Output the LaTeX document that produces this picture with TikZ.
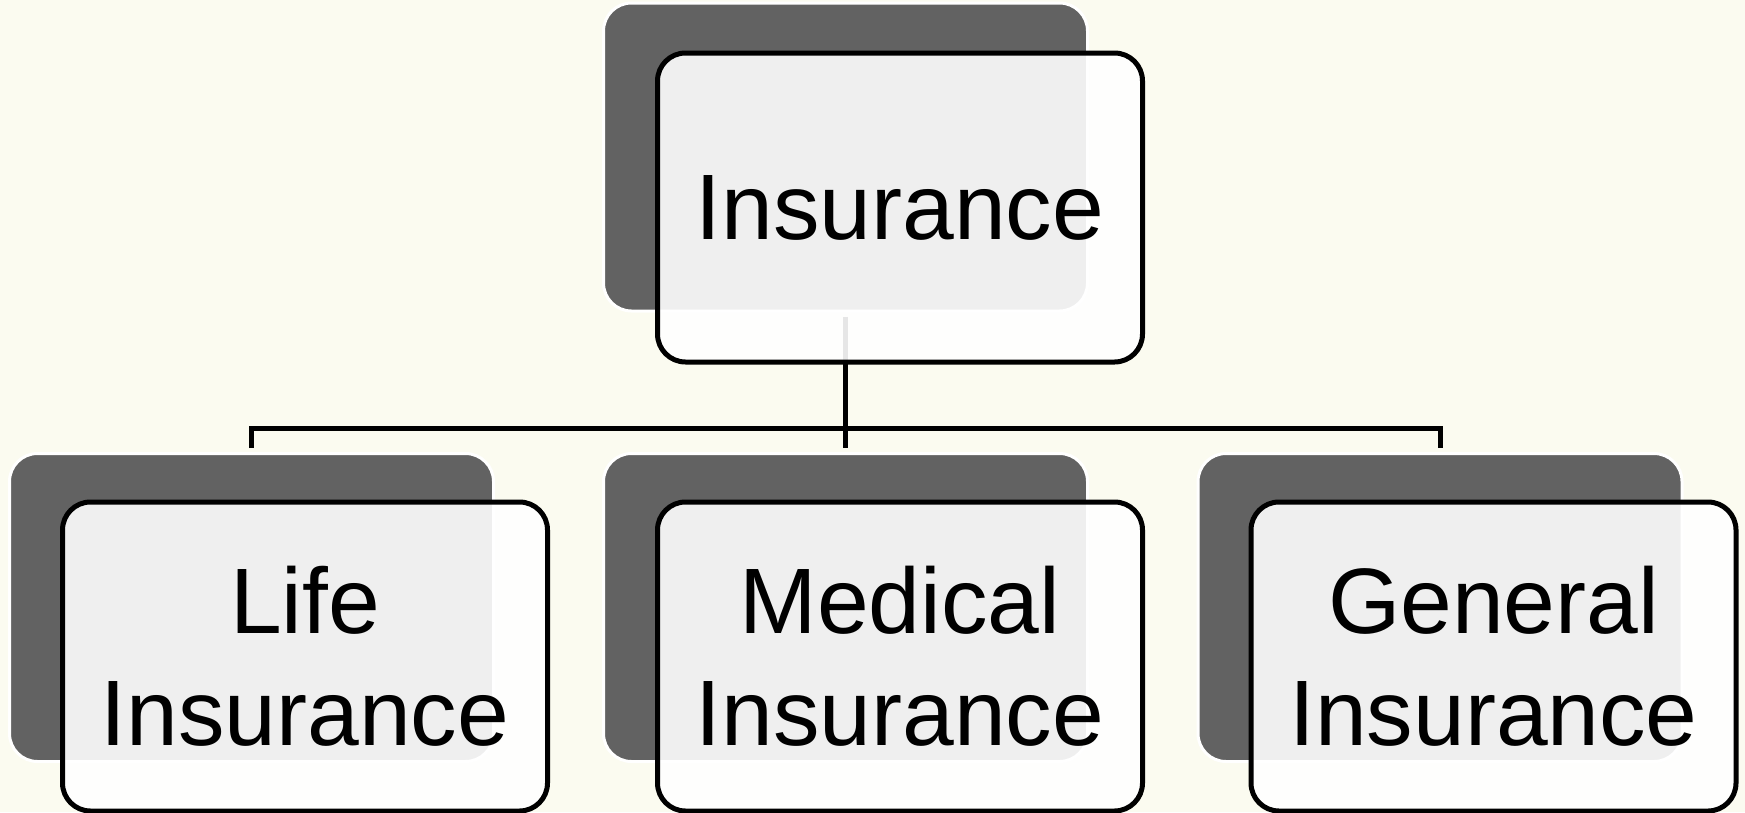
\documentclass[tikz,border=0pt]{standalone}
\usepackage{fontspec}
\setmainfont{Liberation Sans}
\definecolor{bgcream}{RGB}{251,251,240}
\definecolor{darkgray}{RGB}{98,98,98}
\begin{document}
\begin{tikzpicture}[x=1pt,y=-1pt,
  backbox/.style={rectangle, rounded corners=28pt, fill=darkgray, draw=white, line width=3pt,
    minimum width=484pt, minimum height=308pt, inner sep=0pt},
  frontbox/.style={rectangle, rounded corners=28pt, fill=white, fill opacity=0.9, text opacity=1,
    draw=black, line width=5pt, minimum width=485pt, minimum height=309pt, inner sep=0pt,
    align=center, font=\fontsize{93}{111.6}\selectfont},
  conn/.style={draw=black, line width=5pt}]
\fill[bgcream] (0,0) rectangle (1745,812);
\useasboundingbox (0,0) rectangle (1745,812);
% back boxes
\node[backbox] (topdark) at (845.5,157) {};
\node[backbox] (lifedark) at (251.5,607.5) {};
\node[backbox] (meddark) at (845.5,607.5) {};
\node[backbox] (gendark) at (1440,607.5) {};
% connectors
\draw[conn] ([yshift=-4pt]topdark.south) -- ([yshift=4pt]meddark.north);
\draw[conn] ([yshift=4pt]lifedark.north) -- ++(0,-20) -| ([yshift=4pt]gendark.north);
% front boxes
\node[frontbox] (top) at (900,207.5) {Insurance};
\node[frontbox] (life) at (305,656.5) {Life\\Insurance};
\node[frontbox] (med) at (900,656.5) {Medical\\Insurance};
\node[frontbox] (gen) at (1493.5,656.5) {General\\Insurance};
\end{tikzpicture}
\end{document}
